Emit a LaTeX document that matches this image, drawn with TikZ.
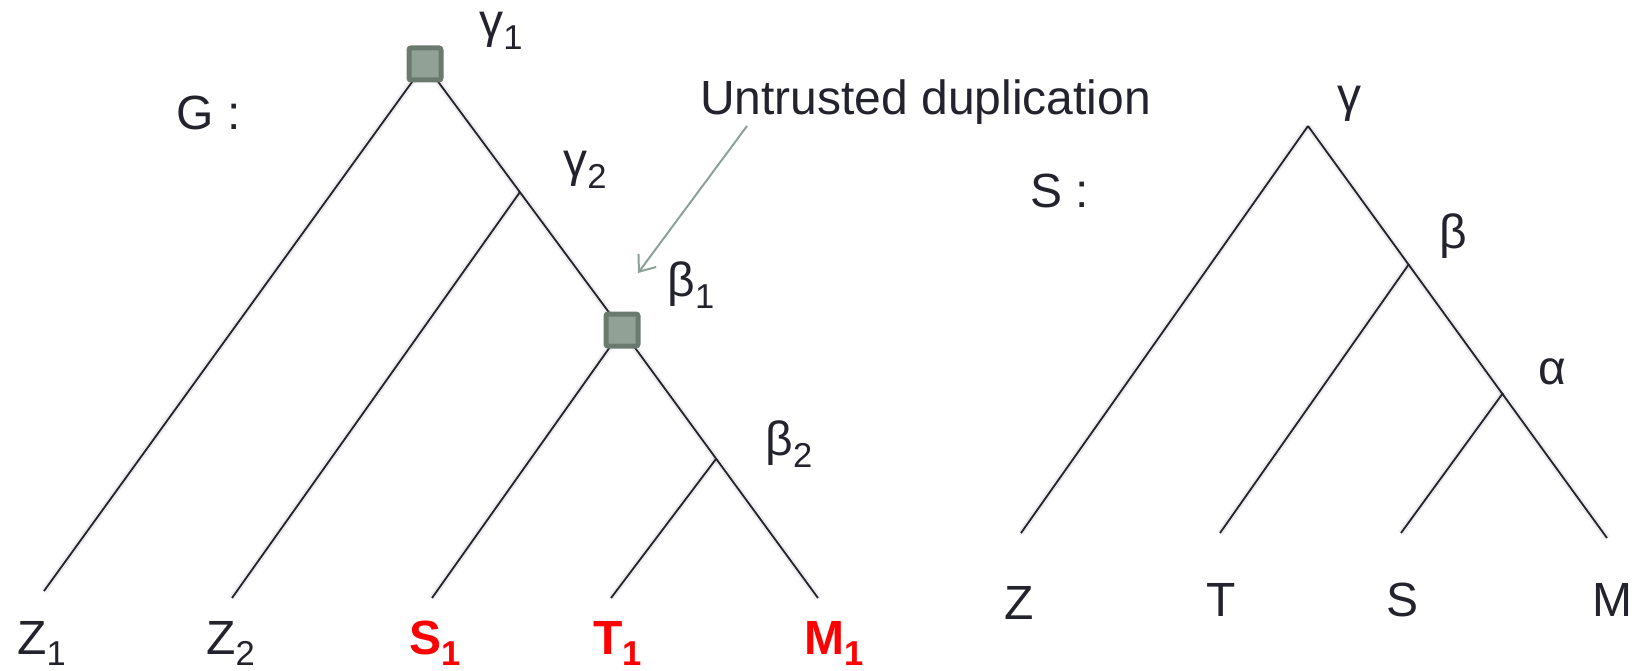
\documentclass[tikz,border=0pt]{standalone}
\usepackage{fontspec}
\setmainfont{Liberation Sans}
\usetikzlibrary{arrows.meta}
\definecolor{ink}{RGB}{35,35,45}
\definecolor{dupout}{RGB}{107,122,110}
\definecolor{dupin}{RGB}{146,161,150}
\definecolor{arrowc}{RGB}{140,162,152}
\newcommand{\lsub}[1]{\raisebox{-0.24em}{\scalebox{0.72}{#1}}}
\pgfdeclarelayer{background}
\pgfsetlayers{background,main}
\begin{document}
\begin{tikzpicture}[x=1pt,y=-1pt,
  edge/.style={draw=ink, line width=1.8pt},
  shade/.style={draw=black, opacity=0.07, line width=6pt, shift={(3,3)}},
  lbl/.style={text=ink, font=\fontsize{48}{54}\selectfont, inner sep=0pt},
  leafred/.style={text=red, font=\fontsize{48}{54}\selectfont\bfseries, inner sep=0pt},
  dupnode/.style={draw=dupout, fill=dupin, line width=5pt, minimum size=32pt, rounded corners=2pt, inner sep=0pt}]
\useasboundingbox (0,0) rectangle (1639,671);
% gene tree G
\node[dupnode] (g1) at (425,64) {};
\node[dupnode] (b1) at (622,330) {};
\coordinate (g2) at (520,192);
\coordinate (b2) at (716,459);
\coordinate (z1) at (44,591);
\coordinate (z2) at (232,598);
\coordinate (s1) at (432,598);
\coordinate (t1) at (611,598);
\coordinate (m1) at (818,598);
% species tree S
\coordinate (sg) at (1308,126);
\coordinate (sb) at (1409,264);
\coordinate (sa) at (1503,393);
\coordinate (sz) at (1021,533);
\coordinate (st) at (1220,533);
\coordinate (ss) at (1401,533);
\coordinate (sm) at (1607,538);
\begin{pgfonlayer}{background}
  \foreach \a/\b in {g1/z1,g1/b1,b1/m1,g2/z2,b1/s1,b2/t1,sg/sz,sg/sm,sb/st,sa/ss}{
    \draw[shade] (\a.center) -- (\b.center);
    \draw[edge] (\a.center) -- (\b.center);
  }
\end{pgfonlayer}
% labels
\node[lbl] (lg1) at (501,31) {γ\lsub{1}};
\node[lbl] (lG) at (209,113) {G :};
\node[lbl] (lg2) at (585,170) {γ\lsub{2}};
\node[lbl] (lb1) at (691,285) {β\lsub{1}};
\node[lbl] (lb2) at (789,444) {β\lsub{2}};
\node[lbl, anchor=base west] (lz1) at (17,654) {Z\lsub{1}};
\node[lbl, anchor=base west] (lz2) at (206,654) {Z\lsub{2}};
\node[leafred, anchor=base west] (ls1) at (409,654) {S\lsub{1}};
\node[leafred, anchor=base west] (lt1) at (593,654) {T\lsub{1}};
\node[leafred, anchor=base west] (lm1) at (804,654) {M\lsub{1}};
\node[lbl, anchor=base west] (unt) at (700,115) {Untrusted duplication};
\coordinate (arA) at (747,126);
\coordinate (arB) at (638,273);
\draw[arrowc, line width=2pt, -{Straight Barb[length=14pt,width=22pt]}] (arA) -- (arB);
\node[lbl] (lsg) at (1349,104) {γ};
\node[lbl] (lS) at (1060,191) {S :};
\node[lbl] (lsb) at (1453,236) {β};
\node[lbl] (lsa) at (1552,372) {α};
\node[lbl, anchor=base west] (lsz) at (1004,619) {Z};
\node[lbl, anchor=base west] (lst) at (1206,616) {T};
\node[lbl, anchor=base west] (lss) at (1386,616) {S};
\node[lbl, anchor=base west] (lsm) at (1592,616) {M};
\end{tikzpicture}
\end{document}
